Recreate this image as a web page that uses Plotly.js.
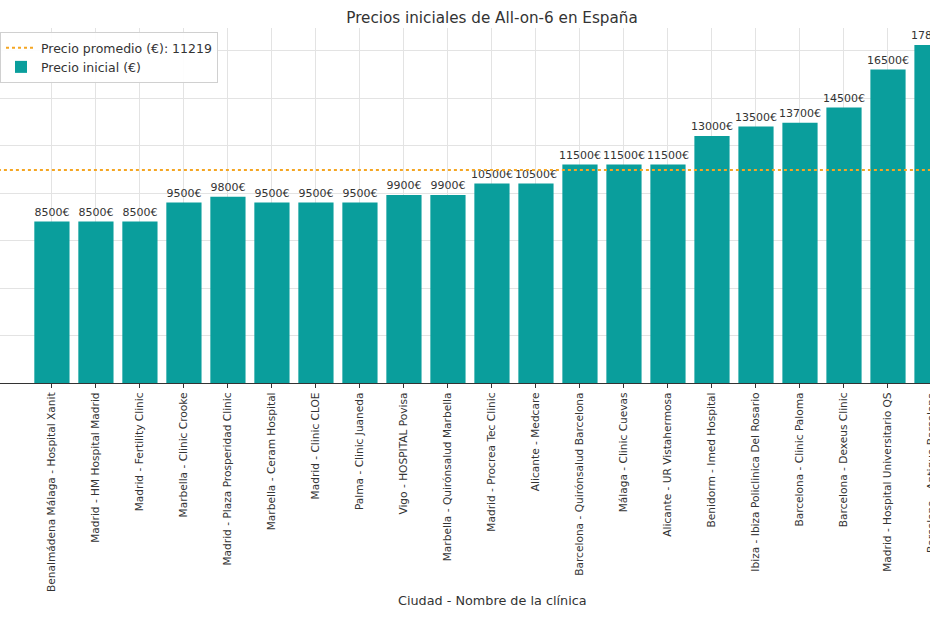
<!DOCTYPE html>
<html>
<head>
<meta charset="utf-8">
<script src="https://cdn.plot.ly/plotly-3.0.1.min.js"></script>
<style>html,body{margin:0;padding:0;background:#fff;overflow:hidden;width:930px;height:620px;}#chart{width:1000px;height:620px;}</style>
</head>
<body>
<div id="chart"></div>
<script>
const clinics = [
  "Benalmádena Málaga - Hospital Xanit",
  "Madrid - HM Hospital Madrid",
  "Madrid - Fertility Clinic",
  "Marbella - Clinic Crooke",
  "Madrid - Plaza Prosperidad Clinic",
  "Marbella - Ceram Hospital",
  "Madrid - Clinic CLOE",
  "Palma - Clinic Juaneda",
  "Vigo - HOSPITAL Povisa",
  "Marbella - Quirónsalud Marbella",
  "Madrid - Procrea Tec Clinic",
  "Alicante - Medcare",
  "Barcelona - Quirónsalud Barcelona",
  "Málaga - Clinic Cuevas",
  "Alicante - UR Vistahermosa",
  "Benidorm - Imed Hospital",
  "Ibiza - Ibiza Policlinica Del Rosario",
  "Barcelona - Clinic Paloma",
  "Barcelona - Dexeus Clinic",
  "Madrid - Hospital Universitario QS",
  "Barcelona - Antiguo Barcelona"
];
const prices = [8500, 8500, 8500, 9500, 9800, 9500, 9500, 9500, 9900, 9900, 10500, 10500, 11500, 11500, 11500, 13000, 13500, 13700, 14500, 16500, 17800];
const averagePrice = [11219];

const idx = clinics.map((_, i) => i);
const labels = prices.map(v => v + "€");
const FONT = "DejaVu Sans, sans-serif";
const TXT = "#333333";
const W = 1000;

const barTrace = {
  type: "bar",
  x: idx,
  y: prices,
  width: 0.8,
  name: "Precio inicial (€)",
  marker: {color: "#0a9e9c", line: {width: 0}},
  text: labels,
  textposition: "outside",
  constraintext: "none",
  cliponaxis: false,
  textfont: {family: FONT, size: 11, color: TXT},
  legendrank: 2,
  hoverinfo: "skip"
};
const avgTrace = {
  type: "scatter",
  mode: "lines",
  x: [-3, clinics.length + 2],
  y: [averagePrice[0], averagePrice[0]],
  name: "Precio promedio (€): " + averagePrice[0],
  line: {color: "#f5a623", width: 2, dash: "dot"},
  legendrank: 1,
  hoverinfo: "skip"
};

const layout = {
  width: W,
  height: 620,
  margin: {l: 0, r: 0, t: 28, b: 237, pad: 0},
  paper_bgcolor: "#ffffff",
  plot_bgcolor: "#ffffff",
  font: {family: FONT, color: TXT},
  showlegend: true,
  title: {
    text: "Precios iniciales de All-on-6 en España",
    font: {family: FONT, size: 15.2, color: TXT},
    xref: "container", x: 492 / W, xanchor: "center",
    yref: "container", y: 1 - 18 / 620, yanchor: "middle"
  },
  xaxis: {
    range: [-1.18, (W - 52) / 44],
    tickmode: "array",
    tickvals: idx,
    ticktext: clinics,
    tickangle: -90,
    tickfont: {family: FONT, size: 10.6, color: TXT},
    ticks: "outside",
    ticklen: 4,
    tickcolor: TXT,
    showgrid: true,
    gridcolor: "#e3e3e3",
    gridwidth: 1,
    showline: true,
    linecolor: "#333333",
    linewidth: 1.2,
    zeroline: false,
    fixedrange: true
  },
  yaxis: {
    range: [0, 18690],
    dtick: 2500,
    tick0: 0,
    showticklabels: false,
    ticks: "",
    showgrid: true,
    gridcolor: "#e3e3e3",
    gridwidth: 1,
    zeroline: false,
    showline: false,
    fixedrange: true
  },
  legend: {
    x: 0, xanchor: "left",
    y: (383 - 32) / 355, yanchor: "top",
    bgcolor: "rgba(255,255,255,0.9)",
    bordercolor: "#d0d0d0",
    borderwidth: 1,
    font: {family: FONT, size: 12.5, color: TXT},
    tracegroupgap: 0,
    itemwidth: 30
  },
  annotations: [{
    text: "Ciudad - Nombre de la clínica",
    xref: "paper", x: 492 / W, xanchor: "center",
    yref: "paper", y: (383 - 600) / 355, yanchor: "middle",
    showarrow: false,
    font: {family: FONT, size: 12.8, color: TXT}
  }]
};

Plotly.newPlot("chart", [barTrace, avgTrace], layout, {displayModeBar: false, staticPlot: true});
</script>
</body>
</html>
